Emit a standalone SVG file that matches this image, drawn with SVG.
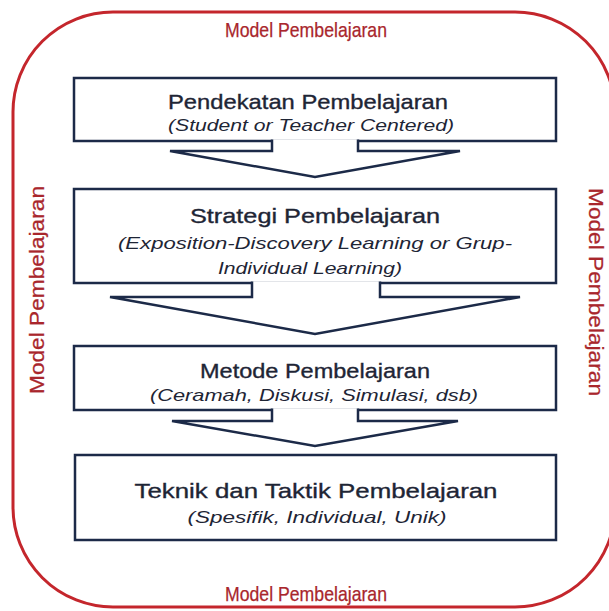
<svg xmlns="http://www.w3.org/2000/svg" width="609" height="611" viewBox="0 0 609 611">
<style>
.frame{fill:none;stroke:#c4262c;stroke-width:3}
.box{fill:#fff;stroke:#1c2a48;stroke-width:2.5}
.arrow{fill:#fff;stroke:#1c2a48;stroke-width:2.5;stroke-linejoin:miter}
.t{font-family:"Liberation Sans",Arial,sans-serif;fill:#1e2535;text-anchor:middle}
.h{font-size:21px;stroke:#1e2535;stroke-width:0.35}
.s{font-size:17px;font-style:italic}
.red{font-family:"Liberation Sans",Arial,sans-serif;fill:#a9262c;text-anchor:middle;stroke:#a9262c;stroke-width:0.25}
.top{font-size:21px}
.side{font-size:21px}
</style>
<rect width="609" height="611" fill="#fff"/>
<g id="frame">
<rect class="frame" x="13" y="12" width="602" height="595" rx="100" ry="100"/>
<text class="red top" x="306" y="37" textLength="162" lengthAdjust="spacingAndGlyphs">Model Pembelajaran</text>
<text class="red top" x="306" y="601" textLength="162" lengthAdjust="spacingAndGlyphs">Model Pembelajaran</text>
<text class="red side" transform="translate(44,290) rotate(-90)" textLength="208" lengthAdjust="spacingAndGlyphs">Model Pembelajaran</text>
<text class="red side" transform="translate(589,292) rotate(90)" textLength="208" lengthAdjust="spacingAndGlyphs">Model Pembelajaran</text>
</g>
<g id="node1">
<rect class="box" x="74" y="78" width="482" height="63"/>
<text class="t h" x="308" y="109" textLength="280" lengthAdjust="spacingAndGlyphs">Pendekatan Pembelajaran</text>
<text class="t s" x="311" y="131" textLength="286" lengthAdjust="spacingAndGlyphs">(Student or Teacher Centered)</text>
</g>
<g id="node2">
<rect class="box" x="74" y="189" width="482" height="94"/>
<text class="t h" x="315" y="223" textLength="250" lengthAdjust="spacingAndGlyphs">Strategi Pembelajaran</text>
<text class="t s" x="315" y="249" textLength="394" lengthAdjust="spacingAndGlyphs">(Exposition-Discovery Learning or Grup-</text>
<text class="t s" x="310" y="274" textLength="184" lengthAdjust="spacingAndGlyphs">Individual Learning)</text>
</g>
<g id="node3">
<rect class="box" x="74" y="346" width="482" height="64"/>
<text class="t h" x="315" y="378" textLength="230" lengthAdjust="spacingAndGlyphs">Metode Pembelajaran</text>
<text class="t s" x="314" y="401" textLength="328" lengthAdjust="spacingAndGlyphs">(Ceramah, Diskusi, Simulasi, dsb)</text>
</g>
<g id="node4">
<rect class="box" x="75" y="455" width="481" height="85"/>
<text class="t h" x="316" y="498" textLength="363" lengthAdjust="spacingAndGlyphs">Teknik dan Taktik Pembelajaran</text>
<text class="t s" x="317" y="523" textLength="259" lengthAdjust="spacingAndGlyphs">(Spesifik, Individual, Unik)</text>
</g>
<g id="connectors">
<path class="arrow" d="M272,139.5 V151 H170 L315,177 L460,151 H358 V139.5"/>
<path class="arrow" d="M252,281.5 V297 H110 L315,334 L520,297 H380 V281.5"/>
<path class="arrow" d="M272,408.5 V421 H172 L315,446 L458,421 H358 V408.5"/>
</g>
</svg>
